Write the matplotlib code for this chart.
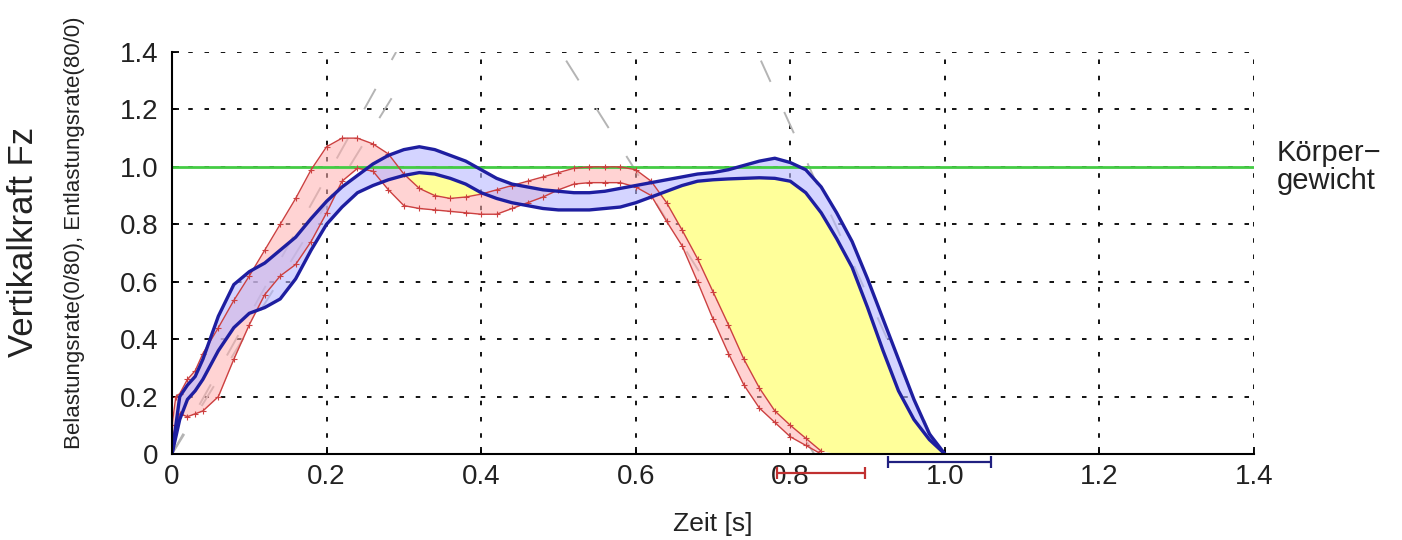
import numpy as np
import matplotlib
matplotlib.use("Agg")
import matplotlib.pyplot as plt

plt.rcParams['font.family'] = ['Liberation Sans', 'DejaVu Sans']

# ---------------- data ----------------
zeit = [0.0, 0.005, 0.01, 0.02, 0.03, 0.04, 0.06, 0.08, 0.10, 0.12, 0.14, 0.16, 0.18,
        0.20, 0.22, 0.24, 0.26, 0.28, 0.30, 0.32, 0.34, 0.36, 0.38, 0.40, 0.42, 0.44,
        0.46, 0.48, 0.50, 0.52, 0.54, 0.56, 0.58, 0.60, 0.62, 0.64, 0.66, 0.68, 0.70,
        0.72, 0.74, 0.76, 0.78, 0.80, 0.82, 0.84, 0.86, 0.88, 0.90, 0.92, 0.94, 0.96,
        0.98, 1.00]

blau_oben = [0.0, 0.10, 0.20, 0.24, 0.27, 0.33, 0.48, 0.59, 0.635, 0.665, 0.71, 0.755, 0.82,
             0.88, 0.93, 0.97, 1.01, 1.04, 1.06, 1.07, 1.06, 1.04, 1.02, 0.99, 0.96, 0.94,
             0.93, 0.92, 0.915, 0.91, 0.91, 0.915, 0.925, 0.935, 0.945, 0.955, 0.965, 0.975, 0.98,
             0.99, 1.005, 1.02, 1.03, 1.015, 0.99, 0.93, 0.84, 0.74, 0.61, 0.47, 0.33, 0.19,
             0.07, 0.0]

blau_unten = [0.0, 0.06, 0.12, 0.19, 0.22, 0.26, 0.36, 0.44, 0.49, 0.51, 0.54, 0.61, 0.71,
              0.80, 0.86, 0.91, 0.935, 0.955, 0.97, 0.98, 0.975, 0.96, 0.94, 0.91, 0.89, 0.875,
              0.865, 0.855, 0.85, 0.85, 0.85, 0.855, 0.86, 0.875, 0.895, 0.915, 0.935, 0.95, 0.955,
              0.958, 0.96, 0.962, 0.96, 0.95, 0.91, 0.84, 0.75, 0.65, 0.51, 0.36, 0.22, 0.12,
              0.05, 0.0]

rot_oben = [0.10, 0.20, 0.21, 0.26, 0.29, 0.35, 0.44, 0.535, 0.62, 0.71, 0.80, 0.89, 0.99,
            1.07, 1.10, 1.10, 1.08, 1.045, 0.975, 0.925, 0.90, 0.89, 0.895, 0.905, 0.92, 0.935,
            0.95, 0.965, 0.98, 0.995, 1.0, 1.0, 1.0, 0.99, 0.95, 0.875, 0.78, 0.68, 0.565,
            0.45, 0.33, 0.23, 0.15, 0.10, 0.055, 0.01, np.nan, np.nan, np.nan, np.nan, np.nan, np.nan,
            np.nan, np.nan]

rot_unten = [0.05, 0.10, 0.14, 0.13, 0.14, 0.15, 0.20, 0.33, 0.45, 0.555, 0.62, 0.66, 0.74,
             0.84, 0.95, 0.995, 0.985, 0.92, 0.865, 0.855, 0.85, 0.845, 0.84, 0.835, 0.835, 0.855,
             0.875, 0.895, 0.92, 0.94, 0.945, 0.945, 0.945, 0.93, 0.90, 0.81, 0.725, 0.60, 0.47,
             0.35, 0.24, 0.16, 0.11, 0.06, 0.03, 0.0, np.nan, np.nan, np.nan, np.nan, np.nan, np.nan,
             np.nan, np.nan]

# loading / unloading rate lines (start and end points)
belastung_t = [[0.0, 0.29], [0.0, 0.305]]
belastung_f = [[0.0, 1.40], [0.0, 1.33]]
entlastung_t = [[0.51, 0.831], [0.762, 0.993]]
entlastung_f = [[1.37, 0.0], [1.37, 0.0]]

# mean end of ground contact +/- SD
ende_mittel = [0.84, 0.993]
ende_sd = [0.057, 0.067]

koerpergewicht = 1.0

x_ticks = [0, 0.2, 0.4, 0.6, 0.8, 1.0, 1.2, 1.4]
x_labels = ['0', '0.2', '0.4', '0.6', '0.8', '1.0', '1.2', '1.4']
y_ticks = [0, 0.2, 0.4, 0.6, 0.8, 1.0, 1.2, 1.4]
y_labels = ['0', '0.2', '0.4', '0.6', '0.8', '1.0', '1.2', '1.4']

# ---------------- figure ----------------
W, H = 1402, 540
fig = plt.figure(figsize=(W / 100, H / 100), dpi=100)
ax = fig.add_axes([172 / W, 1 - 454 / H, 1082 / W, 402 / H])

t = np.array(zeit)
bo = np.array(blau_oben)
bu = np.array(blau_unten)
ro = np.array(rot_oben)
ru = np.array(rot_unten)

ax.set_xlim(0, 1.4)
ax.set_ylim(0, 1.4)

# grid
ax.grid(True, color='black', linestyle=(0, (2.5, 6.5)), linewidth=1.3, zorder=0)
ax.set_axisbelow(True)

# grey rate lines
for tt, ff in zip(belastung_t + entlastung_t, belastung_f + entlastung_f):
    ax.plot(tt, ff, color='#b4b4b4', linewidth=1.4, linestyle=(0, (12, 17)), zorder=1.5)

# fills
ax.fill_between(t, ru, ro, color='#ffb0b0', alpha=0.55, linewidth=0, zorder=2)
ax.fill_between(t, bu, bo, color='#b8b8ff', alpha=0.6, linewidth=0, zorder=2)
ro0 = np.nan_to_num(ro)
ax.fill_between(t, ro0, bu, where=bu > ro0, interpolate=True,
                color='#ffff9a', linewidth=0, zorder=2)

# body weight line
ax.axhline(koerpergewicht, color='#44cc44', linewidth=2.0, zorder=3)

# red curves
for r in (ro, ru):
    ax.plot(t, r, color='#cc4040', linewidth=1.0, marker='+', markersize=4,
            markeredgewidth=0.8, zorder=4)
# blue curves
for b in (bo, bu):
    ax.plot(t, b, color='#1e1ea0', linewidth=2.4, zorder=5)

# error bars below the axis
eb_y = [-0.065, -0.028]
eb_col = ['#c03030', '#202080']
for m, s, yy, c in zip(ende_mittel, ende_sd, eb_y, eb_col):
    cont = ax.errorbar([m], [yy], xerr=[s], fmt='none', ecolor=c, elinewidth=1.6,
                       capsize=4.5, capthick=1.6, zorder=6)
    for art in cont.lines[1]:
        art.set_clip_on(False)
    for art in cont.lines[2]:
        art.set_clip_on(False)

# axes styling
for side in ('top', 'right'):
    ax.spines[side].set_visible(False)
for side in ('left', 'bottom'):
    ax.spines[side].set_linewidth(1.5)
    ax.spines[side].set_zorder(7)

ax.set_xticks(x_ticks)
ax.set_xticklabels(x_labels)
ax.set_yticks(y_ticks)
ax.set_yticklabels(y_labels)
ax.tick_params(axis='both', direction='in', length=5, width=1.3, labelsize=20,
               colors='black', labelcolor='#222222')
ax.tick_params(axis='x', pad=7)
ax.tick_params(axis='y', pad=10)

ax.set_xlabel('Zeit [s]', fontsize=19, color='#222222', labelpad=16)

fig.text(24 / W, 1 - 242 / H, 'Vertikalkraft Fz', rotation=90, ha='center', va='center',
         fontsize=25, color='#222222')
fig.text(75 / W, 1 - 233 / H, 'Belastungsrate(0/80), Entlastungsrate(80/0)', rotation=90,
         ha='center', va='center', fontsize=16, color='#222222')

ax.text(1.021, (koerpergewicht - 0) / 1.4, 'Körper−\ngewicht', transform=ax.transAxes,
        ha='left', va='center', fontsize=21, color='#222222', linespacing=1.0)

fig.savefig('out.png', dpi=100)
